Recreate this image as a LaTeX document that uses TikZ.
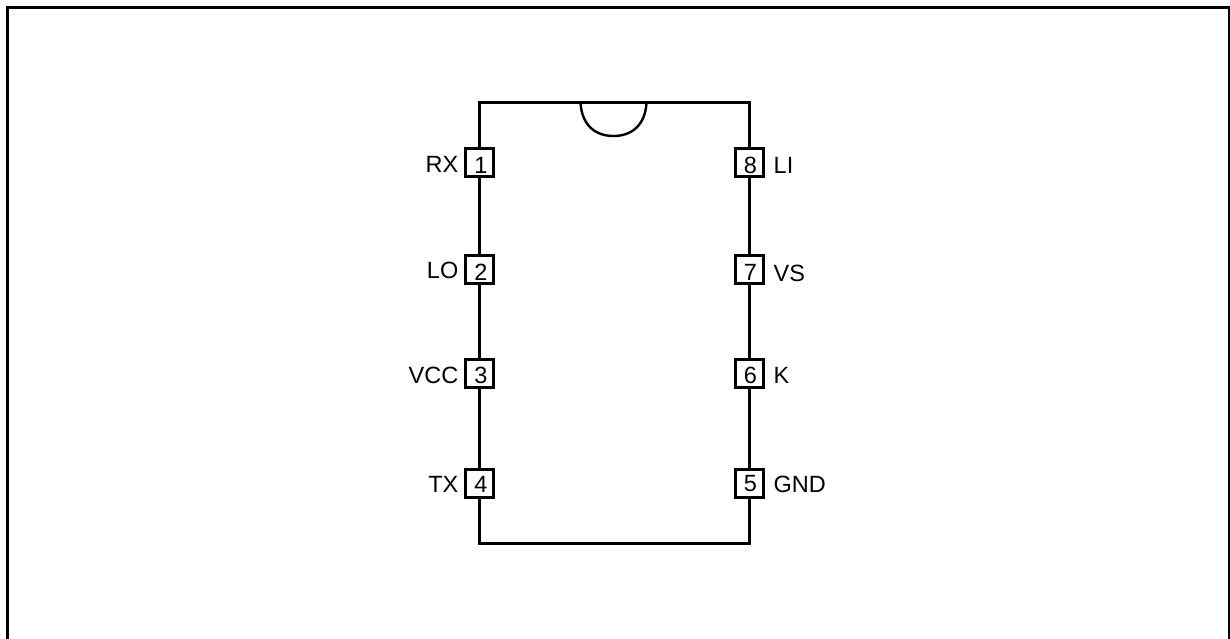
\documentclass[tikz,border=0pt]{standalone}
\usepackage{fontspec}
\setmainfont{Liberation Sans}
\tikzset{
  px/.style={x=1pt,y=-1pt},
  pinbox/.style={draw=black,fill=white,line width=3pt,minimum width=28pt,minimum height=28pt,inner sep=0pt},
  pintext/.style={inner sep=0pt,font=\fontsize{23.5}{24}\selectfont},
  outline/.style={draw=black,line width=3pt}
}
\begin{document}
\begin{tikzpicture}[px]
\useasboundingbox (0,0) rectangle (1230,639);
\draw[black,line width=3.5pt] (7.5,645) -- (7.5,7.5) -- (1229.5,7.5) -- (1229.5,645);
\coordinate (tl) at (479,103);
\coordinate (tr) at (749,103);
\coordinate (bl) at (479,543);
\coordinate (br) at (749,543);
\coordinate (na) at (580.5,103);
\coordinate (nb) at (646.5,103);
\draw[outline] (tl) -- (tr) -- (br) -- (bl) -- cycle;
\draw[outline,line width=2.4pt] (na) .. controls (582,125) and (595,136) .. (613.5,136) .. controls (632,136) and (645,125) .. (nb);
\foreach \n/\t/\yy/\dy/\ly in {1/RX/163/165/164,2/LO/269/272/270,3/VCC/373/375/375,4/TX/483/484/484}{
  \node[pinbox] (p\n) at (479,\yy) {};
  \node[pintext] (d\n) at (481,\dy) {\n};
  \node[pintext,anchor=east] (l\n) at (458.5,\ly) {\t};
}
\foreach \n/\t/\yy/\dy/\ly in {8/LI/163/165/165,7/VS/269/272/273,6/K/373/375/375.5,5/GND/483/484/484}{
  \node[pinbox] (p\n) at (749,\yy) {};
  \node[pintext] (d\n) at (750.5,\dy) {\n};
  \node[pintext,anchor=west] (l\n) at (773.5,\ly) {\t};
}
\end{tikzpicture}
\end{document}
